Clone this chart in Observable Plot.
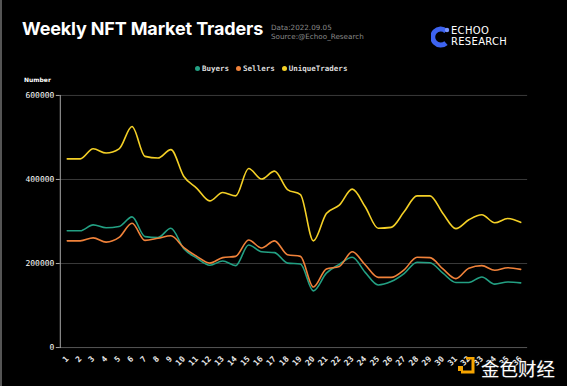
<!DOCTYPE html>
<html>
<head>
<meta charset="utf-8">
<script src="https://cdn.jsdelivr.net/npm/d3@7"></script>
<script src="https://cdn.jsdelivr.net/npm/@observablehq/plot@0.6"></script>
<style>
  html, body { margin:0; padding:0; background:#000; }
  #wrap { position:relative; width:567px; height:386px; overflow:hidden; background:#000; border-left:2px solid #555; box-sizing:border-box; }
  .abs { position:absolute; white-space:nowrap; }
  #title { left:20px; top:18px; font-family:Inter, "Open Sans", sans-serif; font-weight:700; font-size:18px; color:#fff; letter-spacing:-0.15px; }
  .meta { left:269px; font-family:"DejaVu Sans", sans-serif; font-size:7.2px; color:#8a8a8a; }
  .logo { left:449px; font-family:"DejaVu Sans", sans-serif; font-size:10px; color:#fff; letter-spacing:0.3px; }
  #legend { left:193px; top:64px; font-family:"DejaVu Sans Mono", monospace; font-size:7.5px; font-weight:700; color:#ddd; }
  #legend span.dot { display:inline-block; width:5px; height:5px; border-radius:50%; margin-right:2px; vertical-align:0px; }
  #legend span.item { margin-right:7px; }
  #number { left:22px; top:76px; font-family:"DejaVu Sans", sans-serif; font-weight:700; font-size:6px; color:#fff; }
  #plot { position:absolute; left:-2px; top:80px; }
  #wm { left:479px; top:355px; font-family:"Noto Sans CJK SC", sans-serif; font-size:18.5px; color:#fff; text-shadow:0 0 2px #333; }
</style>
</head>
<body>
<div id="wrap">
  <div id="title" class="abs">Weekly NFT Market Traders</div>
  <div class="abs meta" style="top:23px">Data:2022.09.05</div>
  <div class="abs meta" style="top:32px">Source:@Echoo_Research</div>
  <svg class="abs" style="left:429px; top:26px" width="20" height="22" viewBox="0 0 20 22">
    <path d="M15 5 A8 8 0 1 0 15 17" fill="none" stroke="#3d63f0" stroke-width="5"/>
    <circle cx="16" cy="4" r="2.2" fill="#7a95ff"/>
  </svg>
  <div class="abs logo" style="top:25px">ECHOO</div>
  <div class="abs logo" style="top:36px">RESEARCH</div>
  <div id="legend" class="abs"></div>
  <div id="number" class="abs">Number</div>
  <div id="plot"></div>
  <svg class="abs" style="left:456px; top:357px" width="18" height="18" viewBox="0 0 18 18">
    <rect x="0" y="9" width="5" height="5" fill="#f5a400"/>
    <path d="M8 1 L15 1 L15 15 L3 15" fill="none" stroke="#f5a400" stroke-width="3"/>
  </svg>
  <div id="wm" class="abs">金色财经</div>
</div>
<script>
const weeks = Array.from({length: 36}, (_, i) => i + 1);
const buyers = [278000, 278000, 292000, 285000, 288000, 311000, 264000, 262000, 284000, 235000,
  213000, 196000, 206000, 195000, 244000, 228000, 226000, 201000, 199000, 135000,
  177000, 198000, 215000, 179000, 149000, 157000, 176000, 203000, 202000, 177000,
  155000, 155000, 168000, 151000, 156000, 154000];
const sellers = [254000, 254000, 261000, 251000, 262000, 296000, 255000, 260000, 266000, 238000,
  217000, 201000, 214000, 217000, 256000, 237000, 254000, 221000, 217000, 144000,
  187000, 193000, 228000, 197000, 167000, 167000, 185000, 215000, 214000, 187000,
  164000, 189000, 195000, 184000, 190000, 186000];
const uniqueTraders = [449000, 449000, 473000, 463000, 473000, 526000, 455000, 451000, 471000, 407000,
  379000, 349000, 369000, 361000, 426000, 401000, 420000, 376000, 364000, 254000,
  319000, 339000, 377000, 335000, 284000, 286000, 323000, 361000, 361000, 319000,
  283000, 304000, 316000, 297000, 307000, 298000];
const seriesNames = ["Buyers", "Sellers", "UniqueTraders"];
const seriesColors = ["#23a083", "#f0823a", "#f4d026"];
const yTicks = [0, 200000, 400000, 600000];

const rows = [];
[buyers, sellers, uniqueTraders].forEach((arr, s) => {
  arr.forEach((v, i) => rows.push({week: weeks[i], value: v, series: seriesNames[s]}));
});

const legend = document.getElementById("legend");
seriesNames.forEach((n, i) => {
  const it = document.createElement("span");
  it.className = "item";
  it.innerHTML = `<span class="dot" style="background:${seriesColors[i]}"></span>${n}`;
  legend.appendChild(it);
});

const chart = Plot.plot({
  width: 569,
  height: 306,
  marginTop: 15,
  marginBottom: 38,
  marginLeft: 60,
  marginRight: 40,
  style: {background: "transparent", color: "#fff", fontFamily: "DejaVu Sans Mono, monospace", fontSize: "8px"},
  x: {type: "point", domain: weeks, padding: 0.5},
  y: {domain: [0, 600000]},
  color: {domain: seriesNames, range: seriesColors},
  marks: [
    Plot.gridY(yTicks.filter(d => d > 0), {stroke: "#3a3a3a", strokeOpacity: 1, strokeWidth: 1}),
    Plot.ruleY([0], {stroke: "#555", strokeWidth: 1}),
    Plot.frame({anchor: "left", stroke: "#aaa", strokeWidth: 1}),
    Plot.axisY({ticks: yTicks, tickFormat: d => String(d), tickSize: 4, tickPadding: 2, stroke: "#aaa", fill: "#fff", label: null}),
    Plot.axisX({tickRotate: -45, tickSize: 0, tickPadding: 10, fill: "#e8e8e8", fontWeight: "bold", label: null}),
    Plot.line(rows, {x: "week", y: "value", z: "series", stroke: "series", curve: "monotone-x", strokeWidth: 1.6})
  ]
});
document.getElementById("plot").appendChild(chart);
</script>
</body>
</html>
